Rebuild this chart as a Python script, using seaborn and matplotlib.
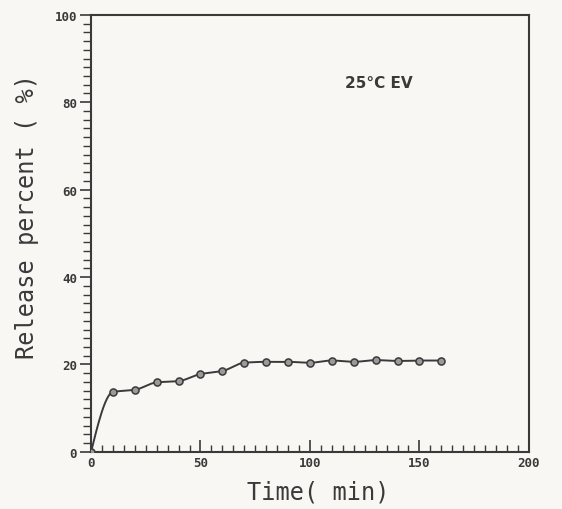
import numpy as np
import pandas as pd
import matplotlib
matplotlib.use("Agg")
import matplotlib.pyplot as plt
from matplotlib.ticker import MultipleLocator
import seaborn as sns

# Release profile at 25 °C (EV)
time_min = [0, 10, 20, 30, 40, 50, 60, 70, 80, 90, 100, 110, 120, 130, 140, 150, 160]
release_pct = [0.0, 13.7, 14.2, 15.9, 16.2, 17.8, 18.5, 20.4, 20.6, 20.6, 20.4, 20.9, 20.6, 21.0, 20.8, 20.9, 20.9]
x_ticks = [0, 50, 100, 150, 200]
y_ticks = [0, 20, 40, 60, 80, 100]

df = pd.DataFrame({"time": time_min, "release": release_pct})


def pchip(x, y, xs):
    """Monotone cubic (Fritsch-Carlson) curve through the measured points."""
    x = np.asarray(x, float)
    y = np.asarray(y, float)
    h = np.diff(x)
    d = np.diff(y) / h
    m = np.zeros_like(y)
    for k in range(1, len(y) - 1):
        if d[k - 1] * d[k] > 0:
            w1 = 2 * h[k] + h[k - 1]
            w2 = h[k] + 2 * h[k - 1]
            m[k] = (w1 + w2) / (w1 / d[k - 1] + w2 / d[k])
    m[0] = ((2 * h[0] + h[1]) * d[0] - h[0] * d[1]) / (h[0] + h[1])
    if np.sign(m[0]) != np.sign(d[0]):
        m[0] = 0
    m[-1] = d[-1]
    idx = np.clip(np.searchsorted(x, xs) - 1, 0, len(h) - 1)
    t = (xs - x[idx]) / h[idx]
    h00 = 2 * t**3 - 3 * t**2 + 1
    h10 = t**3 - 2 * t**2 + t
    h01 = -2 * t**3 + 3 * t**2
    h11 = t**3 - t**2
    return h00 * y[idx] + h10 * h[idx] * m[idx] + h01 * y[idx + 1] + h11 * h[idx] * m[idx + 1]


sns.set_theme(style="ticks")
plt.rcParams["font.family"] = ["DejaVu Sans Mono", "DejaVu Sans"]

bg = "#f8f7f4"
ink = "#3a3a3a"

fig = plt.figure(figsize=(5.62, 5.10), dpi=100, facecolor=bg)
ax = fig.add_axes([0.162, 0.112, 0.779, 0.857])
ax.set_facecolor(bg)

xs = np.linspace(time_min[0], time_min[-1], 400)
smooth = pd.DataFrame({"time": xs, "release": pchip(time_min, release_pct, xs)})
sns.lineplot(data=smooth, x="time", y="release", ax=ax, color=ink, linewidth=1.4)
sns.scatterplot(data=df, x="time", y="release", ax=ax, s=26, color="#9a9a9a",
                edgecolor=ink, linewidth=1.1, zorder=3)

ax.set_xlim(0, 200)
ax.set_ylim(0, 100)
ax.set_xticks(x_ticks)
ax.set_yticks(y_ticks)
ax.xaxis.set_minor_locator(MultipleLocator(5))
ax.yaxis.set_minor_locator(MultipleLocator(2))

ax.tick_params(axis="x", which="major", direction="in", length=9, width=1.2,
               colors=ink, labelsize=9, pad=3)
ax.tick_params(axis="x", which="minor", direction="in", length=5, width=1.0, colors=ink)
ax.tick_params(axis="y", which="major", direction="out", length=8, width=1.2,
               colors=ink, labelsize=9, pad=2)
ax.tick_params(axis="y", which="minor", direction="out", length=6, width=1.0, colors=ink)
for lab in ax.get_xticklabels() + ax.get_yticklabels():
    lab.set_fontweight("bold")

for side in ["left", "bottom", "top", "right"]:
    ax.spines[side].set_visible(True)
    ax.spines[side].set_color(ink)
    ax.spines[side].set_linewidth(1.5)

ax.set_xlabel("Time( min)", fontsize=17, color=ink, labelpad=0)
ax.set_ylabel("Release percent ( %)", fontsize=17, color=ink)
ax.yaxis.set_label_coords(-0.118, 0.54)
ax.xaxis.set_label_coords(0.52, -0.063)

ax.text(116, 84.5, "25\u00b0C EV", fontsize=11, fontweight="bold", color=ink,
        family="DejaVu Sans", va="center", ha="left")

fig.savefig("out.png", dpi=100, facecolor=bg)
